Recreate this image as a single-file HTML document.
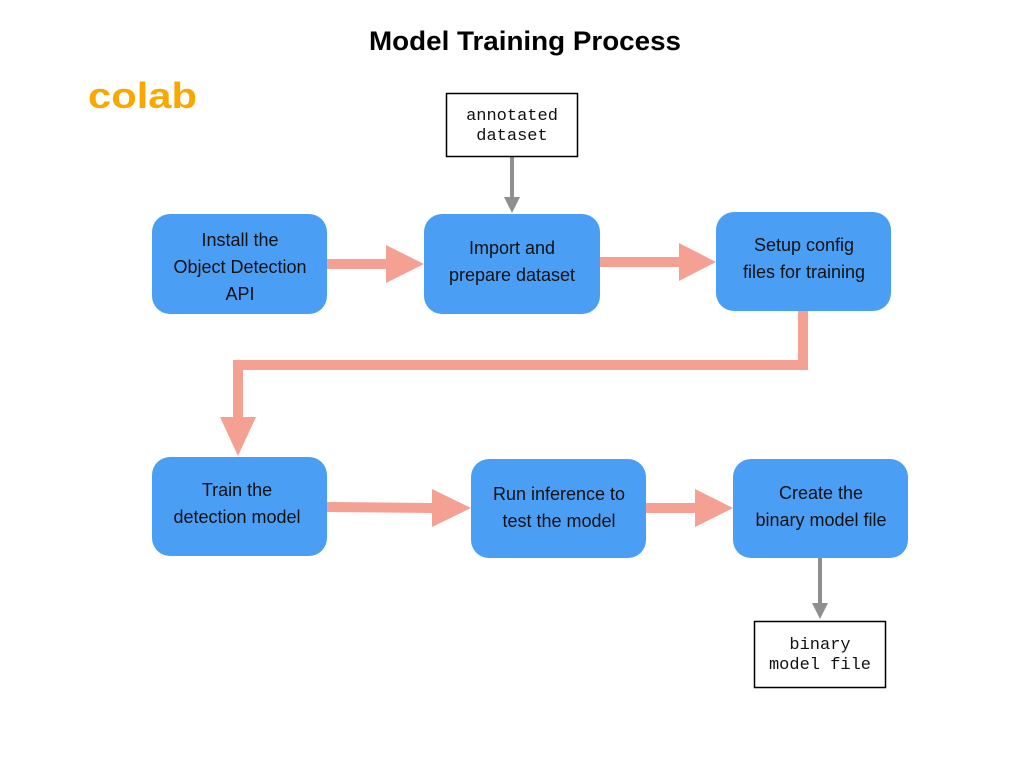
<!DOCTYPE html>
<html><head><style>
body{margin:0;width:1024px;height:768px;background:#fff;overflow:hidden}
svg{display:block}
.t{font-family:"Liberation Sans",sans-serif;font-size:18px;fill:#111;text-anchor:middle}
.m{font-family:"Liberation Mono",monospace;font-size:17px;fill:#111;text-anchor:middle}
</style></head><body>
<svg width="1024" height="768" viewBox="0 0 1024 768">
<text x="369" y="50" textLength="312" lengthAdjust="spacingAndGlyphs" style="font-family:'Liberation Sans',sans-serif;font-weight:bold;font-size:27px">Model Training Process</text>
<text x="88" y="108" textLength="109" lengthAdjust="spacingAndGlyphs" style="font-family:'Liberation Sans',sans-serif;font-weight:bold;font-size:36px;fill:#f9a800">colab</text>
<g fill="#f4a093">
<rect x="327" y="259" width="62" height="10"/><polygon points="386,245 424,264 386,283"/>
<rect x="600" y="257" width="82" height="10"/><polygon points="679,243 716,262 679,281"/>
<polygon points="798,311 808,311 808,370 243,370 243,420 233,420 233,360 798,360"/>
<polygon points="220,417 256,417 238,456"/>
<polygon points="327,502 433,503 433,513 327,512"/><polygon points="432,489 471,508 432,527"/>
<rect x="646" y="503" width="52" height="10"/><polygon points="695,489 733,508 695,527"/>
</g>
<g fill="#8f8f8f">
<rect x="510" y="157" width="4" height="42"/><polygon points="504,197 520,197 512,213"/>
<rect x="818" y="558" width="4" height="46"/><polygon points="812,603 828,603 820,619"/>
</g>
<g fill="#4a9ff5">
<rect x="152" y="214" width="175" height="100" rx="18"/>
<rect x="424" y="214" width="176" height="100" rx="18"/>
<rect x="716" y="212" width="175" height="99" rx="18"/>
<rect x="152" y="457" width="175" height="99" rx="18"/>
<rect x="471" y="459" width="175" height="99" rx="18"/>
<rect x="733" y="459" width="175" height="99" rx="18"/>
</g>
<rect x="446.5" y="93.5" width="131" height="63" fill="#fff" stroke="#000" stroke-width="1.5"/>
<rect x="754.5" y="621.5" width="131" height="66" fill="#fff" stroke="#000" stroke-width="1.5"/>
<text class="m" x="512" y="120">annotated</text><text class="m" x="512" y="140">dataset</text>
<text class="m" x="820" y="649">binary</text><text class="m" x="820" y="669">model file</text>
<text class="t" x="240" y="246">Install the</text><text class="t" x="240" y="273">Object Detection</text><text class="t" x="240" y="300">API</text>
<text class="t" x="512" y="254">Import and</text><text class="t" x="512" y="281">prepare dataset</text>
<text class="t" x="804" y="251">Setup config</text><text class="t" x="804" y="278">files for training</text>
<text class="t" x="237" y="496">Train the</text><text class="t" x="237" y="523">detection model</text>
<text class="t" x="559" y="500">Run inference to</text><text class="t" x="559" y="527">test the model</text>
<text class="t" x="821" y="499">Create the</text><text class="t" x="821" y="526">binary model file</text>
</svg>
</body></html>
